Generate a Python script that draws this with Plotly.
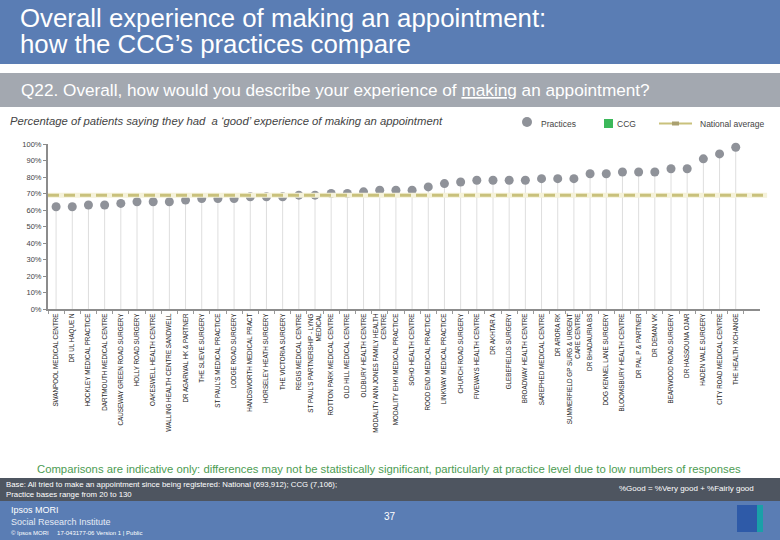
import plotly.graph_objects as go

practices = [
    "SWANPOOL MEDICAL CENTRE", "DR UL HAQUE N", "HOCKLEY MEDICAL PRACTICE",
    "DARTMOUTH MEDICAL CENTRE", "CAUSEWAY GREEN ROAD SURGERY", "HOLLY ROAD SURGERY",
    "OAKESWELL HEALTH CENTRE", "WALLING HEALTH CENTRE SANDWELL", "DR AGARWAL HK & PARTNER",
    "THE SLIEVE SURGERY", "ST PAUL'S MEDICAL PRACTICE", "LODGE ROAD SURGERY",
    "HANDSWORTH MEDICAL PRACT", "HORSELEY HEATH SURGERY", "THE VICTORIA SURGERY",
    "REGIS MEDICAL CENTRE", "ST PAUL'S PARTNERSHIP - LYNG<br>MEDICAL", "ROTTON PARK MEDICAL CENTRE",
    "OLD HILL MEDICAL CENTRE", "OLDBURY HEALTH CENTRE",
    "MODALITY ANN JONES FAMILY HEALTH<br>CENTRE", "MODALITY EHKI MEDICAL PRACTICE",
    "SOHO HEALTH CENTRE", "ROOD END MEDICAL PRACTICE", "LINKWAY MEDICAL PRACTICE",
    "CHURCH ROAD SURGERY", "FIVEWAYS HEALTH CENTRE", "DR AKHTAR A", "GLEBEFIELDS SURGERY",
    "BROADWAY HEALTH CENTRE", "SAREPHED MEDICAL CENTRE", "DR ARORA RK",
    "SUMMERFIELD GP SURG & URGENT<br>CARE CENTRE", "DR BHADAURIA BS",
    "DOG KENNEL LANE SURGERY", "BLOOMSBURY HEALTH CENTRE", "DR PAL P & PARTNER",
    "DR DEMAN VK", "BEARWOOD ROAD SURGERY", "DR HASSOUNA OJAR", "HADEN VALE SURGERY",
    "CITY ROAD MEDICAL CENTRE", "THE HEALTH XCHANGE",
]
good_pct = [62, 62, 63, 63, 64, 65, 65, 65, 66, 67, 67, 67, 68, 68, 68, 69, 69, 70, 70, 71,
            72, 72, 72, 74, 76, 77, 78, 78, 78, 78, 79, 79, 79, 82, 82, 83, 83, 83, 85, 85,
            91, 94, 98]
national_avg = 69
y_ticks = [0, 10, 20, 30, 40, 50, 60, 70, 80, 90, 100]
y_tick_labels = [f"{v}%" for v in y_ticks]

BLUE = "#5a7db4"
GREY_BAND = "#a3a8b0"
DARK_BAND = "#4e5560"
POINT = "#8f9299"
NAT = "#c9c17c"
FONT = "Liberation Sans, Arial"

fig = go.Figure()

# stems
stem_x, stem_y = [], []
for cat, v in zip(practices, good_pct):
    stem_x += [cat, cat, None]
    stem_y += [0, v, None]
fig.add_trace(go.Scatter(x=stem_x, y=stem_y, mode="lines",
                         line=dict(color="#dedede", width=1), hoverinfo="skip",
                         showlegend=False))

fig.add_trace(go.Scatter(x=practices, y=good_pct, mode="markers",
                         marker=dict(color=POINT, size=9), showlegend=False,
                         cliponaxis=False))

L, T, W, H = 48, 144, 712, 165


def px(x):
    return (x - L) / W


def py(y):
    return (T + H - y) / H


def prect(x0, y0, x1, y1, color, layer="below"):
    return dict(type="rect", xref="paper", yref="paper",
                x0=px(x0), x1=px(x1), y0=py(y1), y1=py(y0),
                line_width=0, fillcolor=color, layer=layer)


shapes = [
    prect(0, 0, 780, 64, BLUE),
    prect(0, 73, 780, 107, GREY_BAND),
    prect(0, 478, 780, 501, DARK_BAND),
    prect(0, 501, 780, 540, BLUE),
    # ipsos logo
    prect(737, 505, 763, 532, "#1aa0a8"),
    prect(737, 505, 757, 532, "#2e5aa8"),
]

# national average line (halo + dashed)
shapes.append(dict(type="line", xref="paper", yref="y", x0=0, x1=1.01,
                   y0=national_avg, y1=national_avg,
                   line=dict(color="#f5f2da", width=5), layer="above"))
shapes.append(dict(type="line", xref="paper", yref="y", x0=0, x1=1.01,
                   y0=national_avg, y1=national_avg,
                   line=dict(color=NAT, width=3, dash="11px,5px"), layer="above"))

# legend marks
shapes.append(dict(type="circle", xref="paper", yref="paper",
                   x0=px(522), x1=px(532), y0=py(127), y1=py(117),
                   fillcolor=POINT, line_width=0))
shapes.append(prect(604, 119, 613, 128, "#3cb85a", layer="above"))
shapes.append(dict(type="line", xref="paper", yref="paper",
                   x0=px(659), x1=px(692), y0=py(123.5), y1=py(123.5),
                   line=dict(color=NAT, width=2)))
shapes.append(prect(672, 121.5, 679, 125.5, "#aaa070", layer="above"))


def ann(x, y, text, size, color, xanchor="left", italic=False):
    return dict(xref="paper", yref="paper", x=px(x), y=py(y),
                text=text, showarrow=False, xanchor=xanchor, yanchor="middle",
                font=dict(size=size, color=color, family=FONT,
                          style="italic" if italic else "normal"), align="left")


annotations = [
    ann(18, 18, "Overall experience of making an appointment:", 25.8, "white"),
    ann(18, 44, "how the CCG’s practices compare", 25.8, "white"),
    ann(19, 90, "Q22. Overall, how would you describe your experience of <u>making</u> an appointment?",
        17.2, "white"),
    ann(8, 121, "Percentage of patients saying they had  a ‘good’ experience of making an appointment",
        11.3, "#444444", italic=True),
    ann(539, 124, "Practices", 8.5, "#444444"),
    ann(615, 124, "CCG", 8.5, "#444444"),
    ann(698, 124, "National average", 8.5, "#444444"),
    ann(389, 469, "Comparisons are indicative only: differences may not be statistically significant, particularly at practice level due to low numbers of responses",
        11.3, "#4c9c52", xanchor="center"),
    ann(4, 489, "Base: All tried to make an appointment since being registered: National (693,912); CCG (7,106);<br>Practice bases range from 20 to 130",
        7.8, "white"),
    ann(756, 488, "%Good = %Very good + %Fairly good", 8, "white", xanchor="right"),
    ann(390, 516, "37", 10, "white", xanchor="center"),
    ann(9, 510, "Ipsos MORI", 9, "white"),
    ann(9, 522, "Social Research Institute", 9, "#e6ecf5"),
    ann(9, 533, "© Ipsos MORI     17-043177-06 Version 1 | Public", 6, "white"),
]

fig.update_layout(
    width=780, height=540,
    margin=dict(l=L, r=780 - L - W, t=T, b=540 - T - H, autoexpand=False),
    paper_bgcolor="white", plot_bgcolor="white",
    shapes=shapes, annotations=annotations,
    showlegend=False,
    font=dict(family=FONT, color="#333333"),
    xaxis=dict(range=[-0.5, 43.5], showgrid=False, zeroline=False, automargin=False,
               showline=True, linecolor="#8c8c8c", linewidth=2,
               ticks="outside", ticklen=3, tickcolor="#9a9a9a", tickson="boundaries",
               tickangle=-90, tickfont=dict(size=6.3, color="#222222", family=FONT)),
    yaxis=dict(range=[0, 100], tickvals=y_ticks, ticktext=y_tick_labels, automargin=False,
               showgrid=False, zeroline=False, showline=True, linecolor="#8c8c8c",
               linewidth=2, ticks="outside", ticklen=3, tickcolor="#8c8c8c",
               tickfont=dict(size=7.5, color="#444444")),
)

fig.write_html("out.html", config={"displayModeBar": False},
               post_script="document.body.style.margin='0px';document.body.style.overflow='hidden';")
